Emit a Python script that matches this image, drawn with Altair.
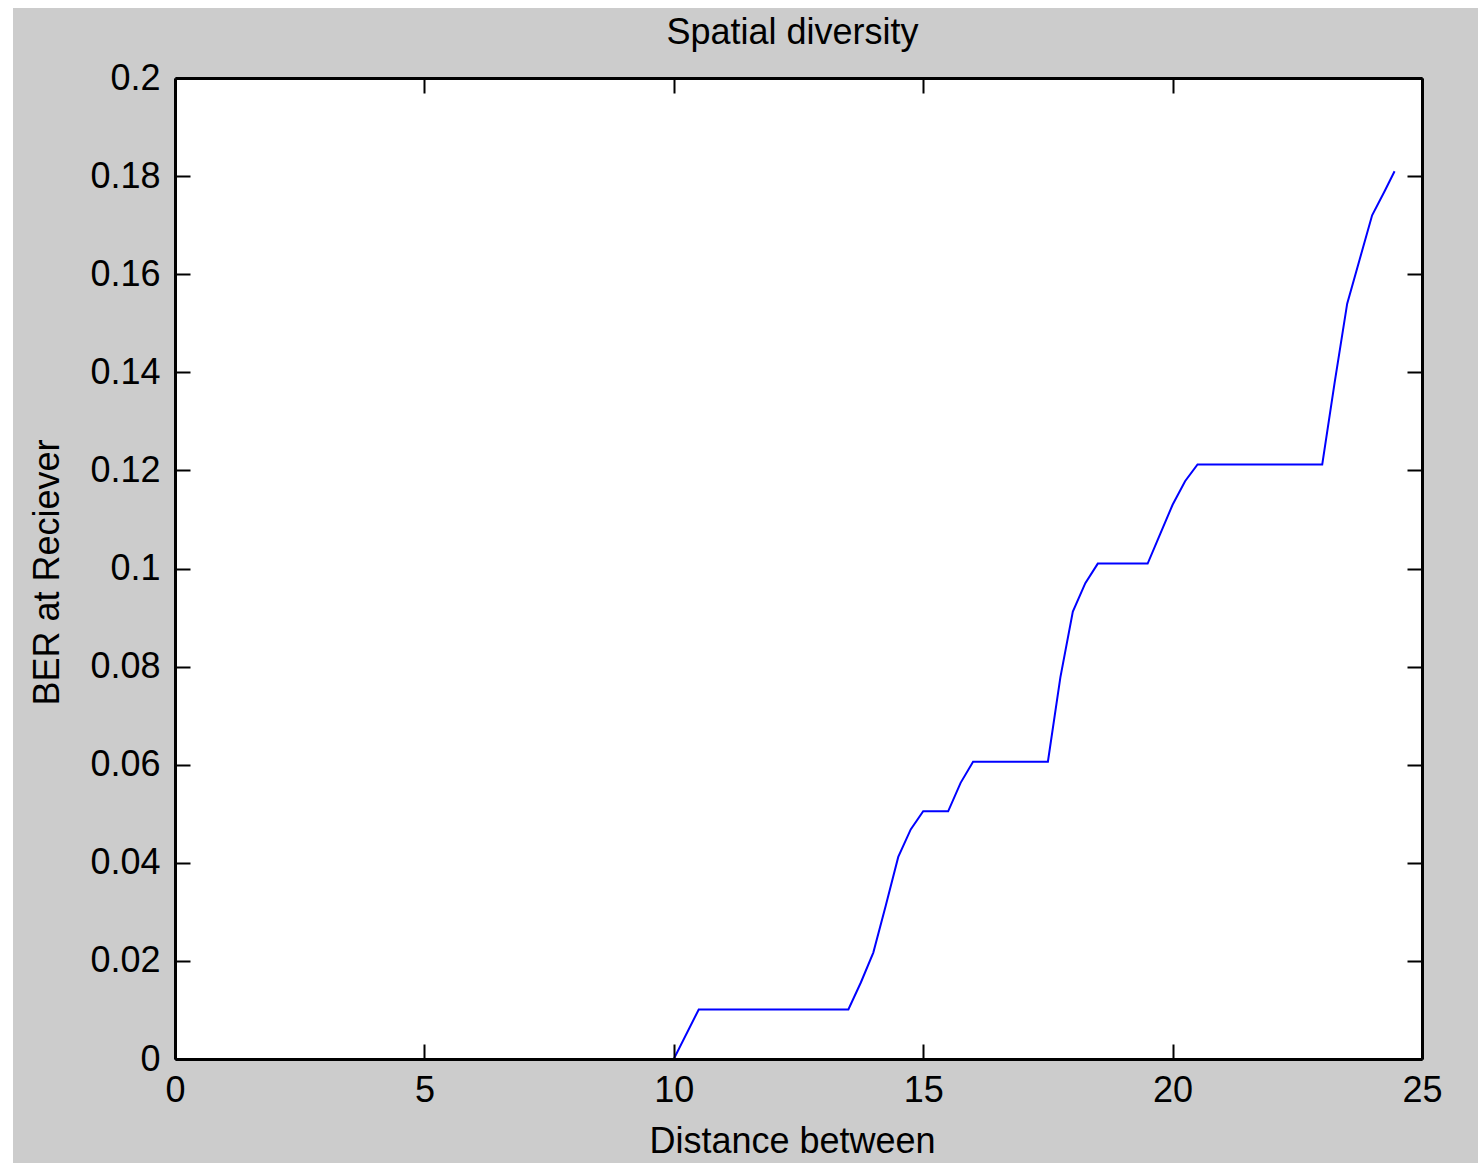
import altair as alt
import pandas as pd

# ---- data ----
distance = [0, 10, 10.5, 13.5, 13.75, 14, 14.25, 14.5, 14.75, 15, 15.5, 15.75, 16,
            17.5, 17.75, 18, 18.25, 18.5, 19.5, 19.75, 20, 20.25, 20.5, 23,
            23.25, 23.5, 23.75, 24, 24.25, 24.45]
ber = [0, 0, 0.0101, 0.0101, 0.0156, 0.0217, 0.0313, 0.0412, 0.0468, 0.0505, 0.0505,
       0.0563, 0.0606, 0.0606, 0.0778, 0.0912, 0.097, 0.101, 0.101, 0.107, 0.113,
       0.1178, 0.1212, 0.1212, 0.138, 0.154, 0.163, 0.172, 0.1769, 0.181]
x_ticks = [0, 5, 10, 15, 20, 25]
y_ticks = [0, 0.02, 0.04, 0.06, 0.08, 0.1, 0.12, 0.14, 0.16, 0.18, 0.2]

df = pd.DataFrame({"d": distance, "ber": ber})

W, H = 1247, 981
PAD = {"left": 175, "top": 78, "right": 56, "bottom": 104}
FONT = "Liberation Sans"
FS = 36

xscale = alt.Scale(domain=[0, 25], nice=False, zero=False)
yscale = alt.Scale(domain=[0, 0.2], nice=False)

one = pd.DataFrame({"k": [1]})

# figure background (gray) and axes background (white)
fig_bg = alt.Chart(one).mark_rect(color="#cccccc").encode(
    x=alt.value(-PAD["left"] + 13), x2=alt.value(W + PAD["right"]),
    y=alt.value(-PAD["top"] + 8), y2=alt.value(H + PAD["bottom"]))
ax_bg = alt.Chart(one).mark_rect(color="white").encode(
    x=alt.value(0), x2=alt.value(W), y=alt.value(0), y2=alt.value(H))

# main line with labelled axes
main = alt.Chart(df).mark_line(color="#0000ff", strokeWidth=2).encode(
    x=alt.X("d:Q", scale=xscale, title="Distance between",
            axis=alt.Axis(orient="bottom", values=x_ticks, ticks=False, tickSize=0,
                          domain=False, grid=False, labelPadding=14, labelFlush=False,
                          labelFont=FONT, labelFontSize=FS, labelColor="black",
                          titleFont=FONT, titleFontSize=FS, titleFontWeight="normal",
                          titleColor="black", titleX=617, titleY=93,
                          titleBaseline="alphabetic", titleAlign="center", zindex=1)),
    y=alt.Y("ber:Q", scale=yscale, title="BER at Reciever",
            axis=alt.Axis(orient="left", values=y_ticks, format="~g", ticks=False,
                          tickSize=0, domain=False, grid=False, labelPadding=15,
                          labelFlush=False,
                          labelFont=FONT, labelFontSize=FS, labelColor="black",
                          titleFont=FONT, titleFontSize=FS, titleFontWeight="normal",
                          titleColor="black", titleX=-117, titleY=494, titleAngle=-90,
                          titleBaseline="alphabetic", titleAlign="center", zindex=1)),
)


def tick_axis(orient, offset, values):
    return alt.Axis(orient=orient, offset=offset, values=values, labels=False,
                    ticks=True, tickSize=15, tickWidth=2, tickColor="black",
                    domain=True, domainColor="black", domainWidth=3,
                    grid=False, zindex=1)


# inward ticks + frame lines: bottom & left edges
ticks_a = alt.Chart(df).mark_line(opacity=0).encode(
    x=alt.X("d:Q", scale=xscale, title=None, axis=tick_axis("top", -H, x_ticks)),
    y=alt.Y("ber:Q", scale=yscale, title=None, axis=tick_axis("right", -W, y_ticks)),
)
# inward ticks + frame lines: top & right edges
ticks_b = alt.Chart(df).mark_line(opacity=0).encode(
    x=alt.X("d:Q", scale=xscale, title=None, axis=tick_axis("bottom", -H, x_ticks)),
    y=alt.Y("ber:Q", scale=yscale, title=None, axis=tick_axis("left", -W, y_ticks)),
)

chart = alt.layer(fig_bg, ax_bg, main, ticks_a, ticks_b).resolve_axis(
    x="independent", y="independent"
).properties(
    width=W, height=H,
    padding=PAD,
    autosize=alt.AutoSizeParams(type="none"),
    background="white",
    title=alt.TitleParams("Spatial diversity", font=FONT, fontSize=FS,
                          fontWeight="normal", color="black", anchor="middle",
                          frame="group", baseline="alphabetic", offset=-72, dx=-6),
).configure_view(strokeWidth=0)

chart.save("out.html", embed_options={"renderer": "svg", "actions": False})
